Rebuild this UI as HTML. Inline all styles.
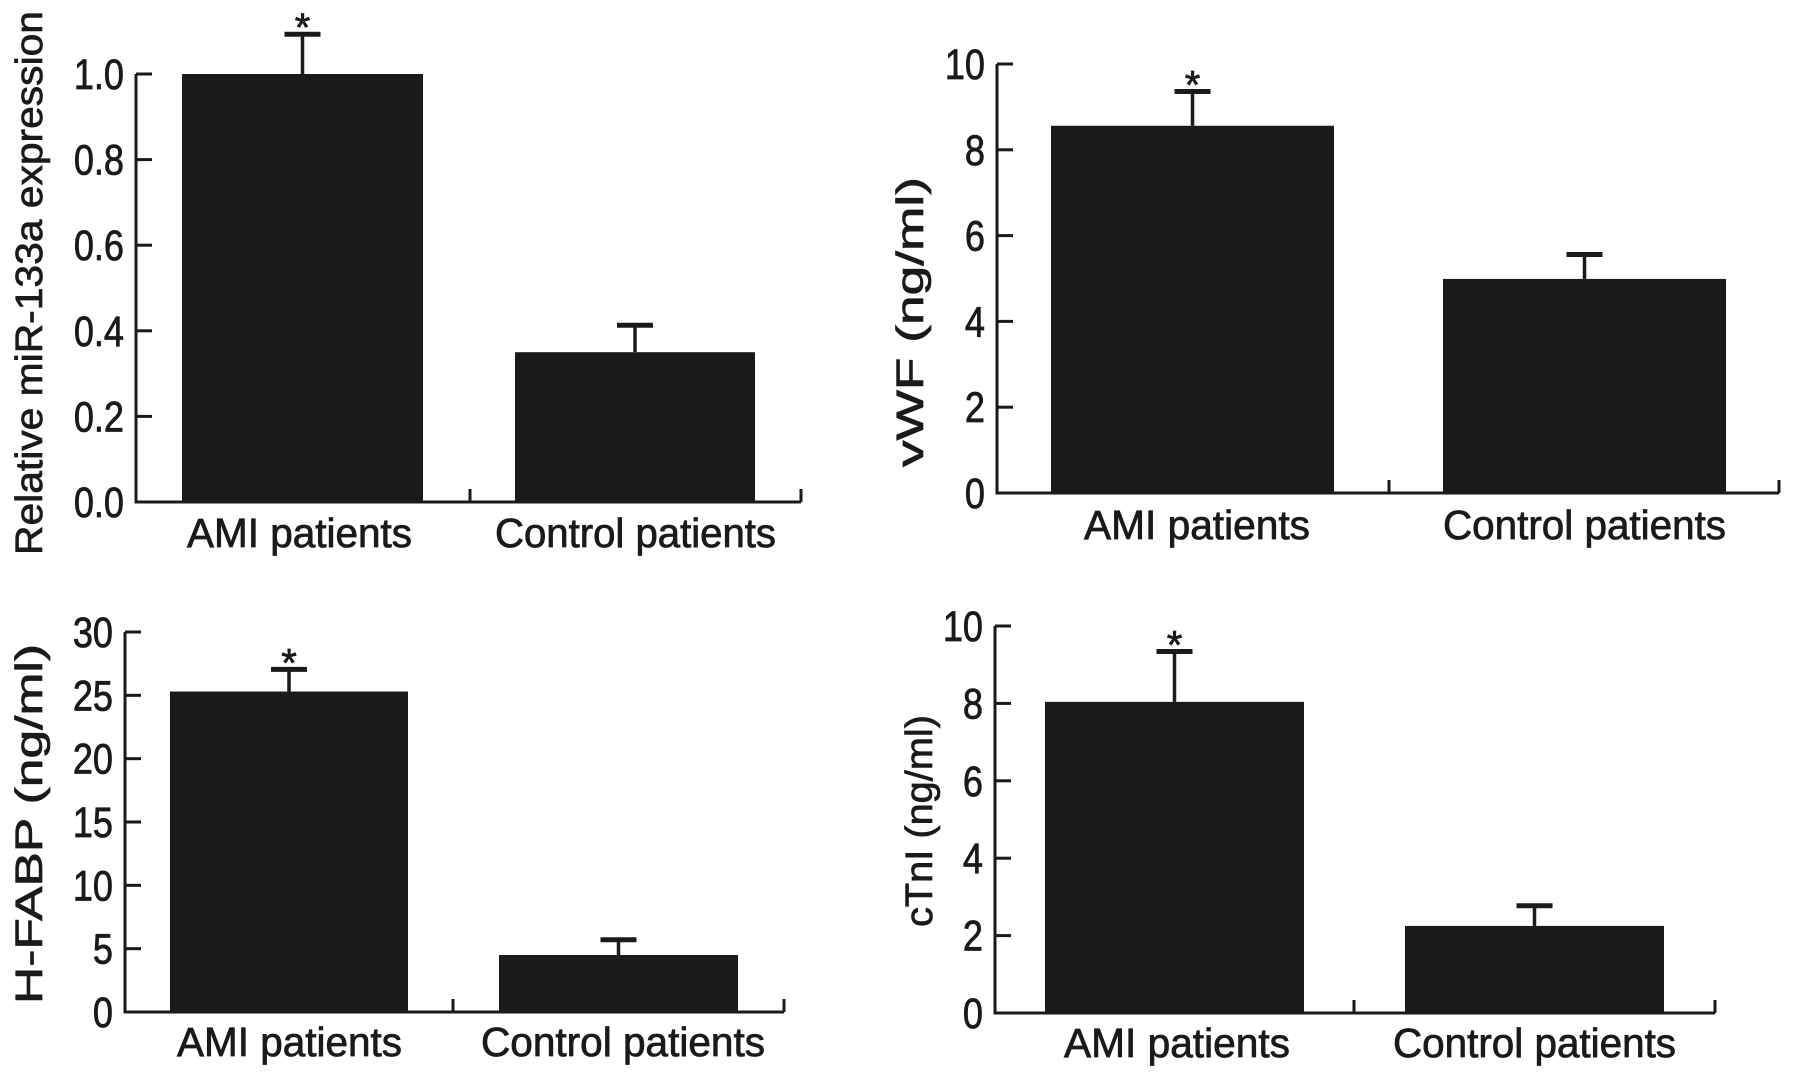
<!DOCTYPE html>
<html><head><meta charset="utf-8"><style>
html,body{margin:0;padding:0;background:#fff;}
svg{display:block;}
text{font-family:"Liberation Sans",Arial,sans-serif;fill:#1a1a1a;}
.hv{stroke:#1a1a1a;stroke-width:0.7;}
</style></head>
<body>
<svg id="fig" width="1795" height="1077" viewBox="0 0 1795 1077" xmlns="http://www.w3.org/2000/svg"></svg>
<script>
const categories = ["AMI patients", "Control patients"];
const mirValues = [1.0, 0.35];
const mirErrors = [0.093, 0.063];
const mirTicks = ["0.0","0.2","0.4","0.6","0.8","1.0"];
const vwfValues = [8.56, 4.99];
const vwfErrors = [0.8, 0.57];
const vwfTicks = ["0","2","4","6","8","10"];
const hfabpValues = [25.3, 4.5];
const hfabpErrors = [1.75, 1.2];
const hfabpTicks = ["0","5","10","15","20","25","30"];
const ctniValues = [8.04, 2.25];
const ctniErrors = [1.3, 0.52];
const ctniTicks = ["0","2","4","6","8","10"];
const significant = [true, false];

const svg = document.getElementById('fig');
const NS = 'http://www.w3.org/2000/svg';
function mk(tag, attrs, parent){const e=document.createElementNS(NS,tag);for(const k in attrs)e.setAttribute(k,attrs[k]);(parent||svg).appendChild(e);return e;}

function panel(name, title, values, errors, ticks, L){
  const g = mk('g',{});
  
  
  const yMax = parseFloat(ticks[ticks.length-1]);
  const y = v => L.y0 - v/yMax*(L.y0-L.yTop);
  const xBand = i => L.bars[i];
  values.forEach((v,i)=>{
    const [x1,x2]=xBand(i);
    const r = mk('rect',{x:x1,y:y(v),width:x2-x1,height:L.y0-y(v),fill:'#1a1a1a'},g);
    
    
    const cx=(x1+x2)/2, top=y(v+errors[i]);
    const eg = mk('g',{},g);
    
    
    mk('line',{x1:cx,x2:cx,y1:y(v),y2:top,stroke:'#1a1a1a','stroke-width':3.5},eg);
    mk('line',{x1:cx-18,x2:cx+18,y1:top,y2:top,stroke:'#1a1a1a','stroke-width':5},eg);
    if(significant[i]){
      const s = mk('text',{x:cx,y:top+7,'text-anchor':'middle','font-size':40,fill:'#333',class:'hv'},g);
      s.textContent='*';
      
      
    }
  });
  const ax = mk('path',{d:`M${L.ax} ${L.yTop} L${L.ax} ${L.y0} L${L.xEnd} ${L.y0} M${L.xMid} ${L.y0} L${L.xMid} ${L.y0-13} M${L.xEnd} ${L.y0} L${L.xEnd} ${L.y0-13}`,stroke:'#1a1a1a','stroke-width':3,fill:'none'},g);
  
  
  ticks.forEach(t=>{
    const v=parseFloat(t), yy=y(v);
    mk('line',{x1:L.ax,x2:L.ax+16,y1:yy,y2:yy,stroke:'#1a1a1a','stroke-width':3},g);
    const tl = mk('text',{x:0,y:0,'text-anchor':'end','font-size':38,class:'hv',transform:`translate(${L.ax-12} ${yy+15}) scale(0.95 1.12)`},g);
    tl.textContent=t;
    
    
  });
  categories.forEach((c,i)=>{
    const [a,b]=L.labels[i];
    const t = mk('text',{x:0,y:0,'font-size':37,class:'hv',textLength:b-a,lengthAdjust:'spacingAndGlyphs',transform:`translate(${a} ${L.labelY}) scale(1 1.1)`},g);
    t.textContent=c;
    
    
  });
  const tt = mk('text',{x:0,y:0,'text-anchor':'middle','font-size':38,class:'hv',textLength:L.titleLen,lengthAdjust:'spacingAndGlyphs',transform:`translate(${L.titleX} ${L.titleY}) rotate(-90)`},g);
  tt.textContent=title;
  
  
}

panel('mir133a','Relative miR-133a expression',mirValues,mirErrors,mirTicks,
 {ax:136,y0:502,yTop:74,xEnd:801,xMid:470,bars:[[182,423],[515,755]],labels:[[187,412],[495,776]],labelY:547,titleX:42,titleY:283,titleLen:544});
panel('vwf','vWF (ng/ml)',vwfValues,vwfErrors,vwfTicks,
 {ax:997,y0:493,yTop:64,xEnd:1779,xMid:1389,bars:[[1051,1334],[1443,1726]],labels:[[1084,1310],[1443,1726]],labelY:539,titleX:923,titleY:322,titleLen:290});
panel('hfabp','H-FABP (ng/ml)',hfabpValues,hfabpErrors,hfabpTicks,
 {ax:125,y0:1012,yTop:632,xEnd:784,xMid:453,bars:[[170,408],[499,738]],labels:[[177,402],[481,765]],labelY:1056,titleX:42,titleY:824,titleLen:360});
panel('ctni','cTnI (ng/ml)',ctniValues,ctniErrors,ctniTicks,
 {ax:995,y0:1013,yTop:626,xEnd:1715,xMid:1354,bars:[[1045,1304],[1405,1664]],labels:[[1064,1290],[1393,1676]],labelY:1057,titleX:932,titleY:821,titleLen:212});
</script>
</body></html>
